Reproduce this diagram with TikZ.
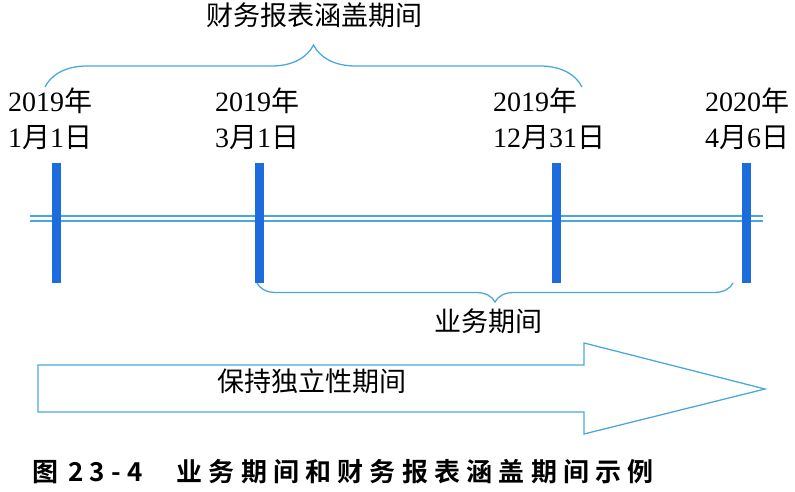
\documentclass[tikz,border=0pt]{standalone}
\usepackage{fontspec}
\setmainfont{Liberation Serif}
\newfontfamily\cjk{Noto Sans CJK SC}
\newfontfamily\capfont[LetterSpace=24]{Noto Sans CJK SC Bold}
\usetikzlibrary{decorations.pathreplacing}
\definecolor{barblue}{RGB}{28,108,222}
\definecolor{lineblue}{RGB}{72,168,222}
\newcommand\cjnian{{\cjk 年}}
\newcommand\cjyue{{\cjk 月}}
\newcommand\cjri{{\cjk 日}}

\begin{document}
\begin{tikzpicture}[x=1pt,y=-1pt,
		bar/.style={fill=barblue,inner sep=0pt,minimum width=9pt,minimum height=120pt},
		datetxt/.style={anchor=base west,inner sep=0pt,font=\fontsize{28}{34}\selectfont},
		cjktxt/.style={inner sep=0pt,font=\cjk\fontsize{27}{32}\selectfont},
		brc/.style={lineblue,line width=0.45mm,decorate}]
			\useasboundingbox (0,0) rectangle (795,492);

			\coordinate (A1) at (45,87);
			\coordinate (A2) at (582,87);
			\coordinate (B1) at (257,283);
			\coordinate (B2) at (733,283);
			\coordinate (L1) at (30,218.5);
			\coordinate (L2) at (763,218.5);

			% time line
			\draw[lineblue,line width=1.2pt,double=white,double distance=3.8pt] (L1) -- (L2);
			\foreach \x [count=\i] in {56,259,556,746}
				\node[bar] (T\i) at (\x,223) {};

			% dates
			\foreach \x/\yr/\md [count=\i] in {8/2019/1\cjyue1\cjri,215/2019/3\cjyue1\cjri,493/2019/12\cjyue31\cjri,705/2020/4\cjyue6\cjri}{
				\node[datetxt] (Y\i) at (\x,112) {\yr\cjnian};
				\node[datetxt] (D\i) at (\x,148) {\md};
			}

			% braces
			\draw[brc,decoration={brace,amplitude=42pt}] (A1) -- (A2);
			\draw[brc,decoration={brace,mirror,amplitude=19pt}] (B1) -- (B2);
			\node[cjktxt,anchor=base] (P1) at (314,26) {财务报表涵盖期间};
			\node[cjktxt,anchor=base] (P2) at (488,331) {业务期间};

			% big arrow
			\draw[lineblue,line width=0.45mm] (38,365) -- (584,365) -- (584,343) -- (765,389) -- (584,434) -- (584,412) -- (38,412) -- cycle;
			\node[cjktxt,anchor=base west] (P3) at (217,391) {保持独立性期间};

			\node[anchor=base west,inner sep=0pt,font=\capfont\fontsize{26}{30}\selectfont] (cap) at (32,481) {图\hspace{10pt}23-4\hspace{34pt}业务期间和财务报表涵盖期间示例};
		\end{tikzpicture}
\end{document}
